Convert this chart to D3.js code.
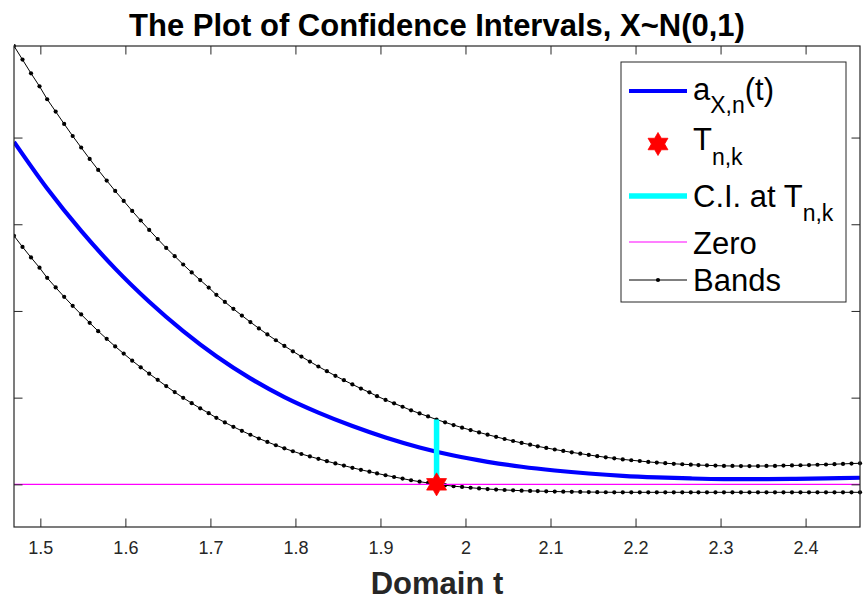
<!DOCTYPE html>
<html><head><meta charset="utf-8">
<script src="https://cdn.jsdelivr.net/npm/d3@7"></script>
<style>
body{margin:0;background:#fff;}
text{font-family:"Liberation Sans",Arial,Helvetica,sans-serif;}
</style>
</head><body>
<svg id="c" width="867" height="614"></svg>
<script>
// ---- data ----
const tBands = [
1.469,1.479,1.489,1.499,1.508,1.518,1.528,1.538,1.548,1.558,
1.568,1.578,1.588,1.598,1.608,1.618,1.628,1.638,1.648,1.658,
1.668,1.678,1.688,1.698,1.707,1.717,1.727,1.737,1.747,1.757,
1.767,1.777,1.787,1.797,1.807,1.817,1.827,1.837,1.847,1.857,
1.867,1.877,1.887,1.896,1.906,1.916,1.926,1.936,1.946,1.956,
1.966,1.976,1.986,1.996,2.006,2.016,2.026,2.036,2.046,2.056,
2.066,2.076,2.085,2.095,2.105,2.115,2.125,2.135,2.145,2.155,
2.165,2.175,2.185,2.195,2.205,2.215,2.225,2.235,2.245,2.255,
2.265,2.274,2.284,2.294,2.304,2.314,2.324,2.334,2.344,2.354,
2.364,2.374,2.384,2.394,2.404,2.414,2.424,2.434,2.444,2.454,
2.464];
const upperBand = [
5.056,4.899,4.741,4.591,4.442,4.300,4.157,4.018,3.885,3.753,
3.627,3.504,3.384,3.269,3.154,3.043,2.935,2.830,2.727,2.632,
2.536,2.444,2.356,2.270,2.186,2.104,2.024,1.947,1.872,1.799,
1.729,1.662,1.597,1.534,1.474,1.416,1.359,1.305,1.252,1.201,
1.153,1.105,1.061,1.017,0.974,0.934,0.895,0.854,0.818,0.783,
0.748,0.715,0.684,0.654,0.626,0.599,0.573,0.548,0.523,0.500,
0.478,0.458,0.438,0.420,0.402,0.385,0.369,0.354,0.339,0.325,
0.312,0.300,0.288,0.278,0.269,0.259,0.251,0.244,0.237,0.232,
0.227,0.222,0.219,0.216,0.213,0.212,0.211,0.211,0.211,0.212,
0.213,0.216,0.218,0.220,0.222,0.226,0.229,0.233,0.236,0.240,
0.243];
const lowerBand = [
2.866,2.739,2.617,2.499,2.382,2.271,2.163,2.059,1.960,1.863,
1.767,1.678,1.591,1.508,1.427,1.350,1.276,1.205,1.133,1.064,
0.998,0.936,0.877,0.821,0.767,0.714,0.664,0.617,0.572,0.529,
0.489,0.451,0.415,0.382,0.350,0.322,0.294,0.267,0.241,0.216,
0.191,0.168,0.146,0.126,0.105,0.085,0.066,0.047,0.031,0.016,
0.002,-0.010,-0.021,-0.030,-0.039,-0.047,-0.054,-0.060,-0.065,-0.069,
-0.073,-0.076,-0.078,-0.081,-0.083,-0.085,-0.086,-0.088,-0.089,-0.090,
-0.091,-0.092,-0.092,-0.092,-0.092,-0.092,-0.092,-0.092,-0.092,-0.092,
-0.092,-0.092,-0.092,-0.092,-0.092,-0.092,-0.092,-0.092,-0.092,-0.092,
-0.092,-0.092,-0.092,-0.092,-0.092,-0.092,-0.092,-0.092,-0.092,-0.092,
-0.092];
const tCurve = [1.469,1.508,1.548,1.588,1.628,1.668,1.707,1.747,1.787,1.827,1.867,1.906,1.946,
                1.986,2.026,2.066,2.105,2.145,2.185,2.225,2.265,2.304,2.344,2.384,2.424,2.464];
const aCurve = [3.950,3.412,2.923,2.488,2.106,1.767,1.477,1.222,1.006,0.827,0.672,0.540,0.425,
                0.332,0.260,0.203,0.160,0.125,0.098,0.080,0.068,0.061,0.060,0.063,0.069,0.076];
const starT = [1.966];
const starV = [0.0];
const ciT = [1.966];
const ciRange = [0.0, 0.748];
const zeroLevel = [0];
const xTicks = [1.5,1.6,1.7,1.8,1.9,2.0,2.1,2.2,2.3,2.4];
const yTicks = [0,1,2,3,4];
const xDomain = [1.469, 2.464];
const yDomain = [-0.492, 5.056];
const titleText = "The Plot of Confidence Intervals, X~N(0,1)";
const xLabelText = "Domain t";

// ---- layout ----
const L = 14, R = 860, T = 46, B = 527;
const svg = d3.select("#c");
const x = d3.scaleLinear().domain(xDomain).range([L, R]);
const y = d3.scaleLinear().domain(yDomain).range([B, T]);
const axisCol = "#262626";

const plot = svg.append("g");
plot.append("defs").append("clipPath").attr("id","clip")
  .append("rect").attr("x",L).attr("y",T-3).attr("width",R-L+3).attr("height",B-T+3);
const g = plot.append("g").attr("clip-path","url(#clip)");

// blue curve
g.append("path").datum(tCurve.map((t,i)=>[t,aCurve[i]]))
  .attr("fill","none").attr("stroke","#0000ff").attr("stroke-width",4.2)
  .attr("d", d3.line().x(d=>x(d[0])).y(d=>y(d[1])).curve(d3.curveMonotoneX));

// bands
[upperBand, lowerBand].forEach(band=>{
  const pts = tBands.map((t,i)=>[t,band[i]]);
  g.append("path").datum(pts).attr("fill","none").attr("stroke","#000").attr("stroke-width",1)
    .attr("d", d3.line().x(d=>x(d[0])).y(d=>y(d[1])));
  g.selectAll(null).data(pts).enter().append("circle")
    .attr("cx",d=>x(d[0])).attr("cy",d=>y(d[1])).attr("r",2.1).attr("fill","#000");
});

// zero line
g.append("line").attr("x1",x(xDomain[0])).attr("x2",x(xDomain[1]))
  .attr("y1",y(zeroLevel[0])).attr("y2",y(zeroLevel[0]))
  .attr("stroke","#ff00ff").attr("stroke-width",1.2);

// CI line
g.append("line").attr("x1",x(ciT[0])).attr("x2",x(ciT[0]))
  .attr("y1",y(ciRange[0])).attr("y2",y(ciRange[1]))
  .attr("stroke","#00ffff").attr("stroke-width",5.5);

// hexagram
function hexagram(R0){
  const r0 = R0/Math.sqrt(3);
  const p=[];
  for(let k=0;k<12;k++){
    const a = -Math.PI/2 + k*Math.PI/6;
    const rr = (k%2===0)?R0:r0;
    p.push([rr*Math.cos(a), rr*Math.sin(a)]);
  }
  return "M"+p.map(q=>q[0].toFixed(2)+","+q[1].toFixed(2)).join("L")+"Z";
}
plot.append("path").attr("d",hexagram(11.5))
  .attr("transform",`translate(${x(starT[0])},${y(starV[0])})`)
  .attr("fill","#ff0000").attr("stroke","#ff0000").attr("stroke-width",0.8);

// ---- axes ----
const ax = svg.append("g").attr("color",axisCol);
const axB = ax.append("g").attr("transform",`translate(0,${B})`)
  .call(d3.axisBottom(x).tickValues(xTicks).tickSizeInner(-8.5).tickSizeOuter(0).tickPadding(14)
     .tickFormat(d=>String(+d.toFixed(1))));
axB.select(".domain").remove();
axB.selectAll("text").attr("font-size",18).attr("fill",axisCol)
  .attr("font-family",'"Liberation Sans",Arial,sans-serif');
const axT = ax.append("g").attr("transform",`translate(0,${T})`)
  .call(d3.axisTop(x).tickValues(xTicks).tickSizeInner(-8.5).tickSizeOuter(0).tickFormat(""));
axT.select(".domain").remove();
const axL = ax.append("g").attr("transform",`translate(${L},0)`)
  .call(d3.axisLeft(y).tickValues(yTicks).tickSizeInner(-8.5).tickSizeOuter(0).tickFormat(""));
axL.select(".domain").remove();
const axR = ax.append("g").attr("transform",`translate(${R},0)`)
  .call(d3.axisRight(y).tickValues(yTicks).tickSizeInner(-8.5).tickSizeOuter(0).tickFormat(""));
axR.select(".domain").remove();
ax.selectAll(".tick line").attr("stroke",axisCol).attr("stroke-width",1);
ax.append("rect").attr("x",L).attr("y",T).attr("width",R-L).attr("height",B-T)
  .attr("fill","none").attr("stroke",axisCol).attr("stroke-width",1.2);

// title & label
svg.append("text").attr("x",(L+R)/2).attr("y",36).attr("text-anchor","middle")
  .attr("font-weight","bold").attr("font-size",31).attr("fill","#000").text(titleText);
svg.append("text").attr("x",(L+R)/2).attr("y",594).attr("text-anchor","middle")
  .attr("font-weight","bold").attr("font-size",31).attr("fill",axisCol).text(xLabelText);

// ---- legend ----
const lg = svg.append("g");
lg.append("rect").attr("x",621).attr("y",62).attr("width",225).attr("height",240)
  .attr("fill","#fff").attr("stroke",axisCol).attr("stroke-width",1);
const lx0 = 629, lx1 = 687, tx = 693, fs = 31, sfs = 23;
// row 1
lg.append("line").attr("x1",lx0).attr("x2",lx1).attr("y1",91).attr("y2",91)
  .attr("stroke","#0000ff").attr("stroke-width",4.2);
const t1 = lg.append("text").attr("x",tx).attr("y",100).attr("font-size",fs).attr("fill","#000");
t1.append("tspan").text("a");
t1.append("tspan").attr("dy",13).attr("font-size",sfs).text("X,n");
t1.append("tspan").attr("dy",-13).text("(t)");
// row 2
lg.append("path").attr("d",hexagram(11.5)).attr("transform","translate(658,144)")
  .attr("fill","#ff0000").attr("stroke","#ff0000").attr("stroke-width",0.8);
const t2 = lg.append("text").attr("x",tx).attr("y",150).attr("font-size",fs).attr("fill","#000");
t2.append("tspan").text("T");
t2.append("tspan").attr("dy",15).attr("font-size",sfs).text("n,k");
// row 3
lg.append("line").attr("x1",lx0).attr("x2",lx1).attr("y1",196).attr("y2",196)
  .attr("stroke","#00ffff").attr("stroke-width",5.5);
const t3 = lg.append("text").attr("x",tx).attr("y",207).attr("font-size",fs).attr("fill","#000");
t3.append("tspan").text("C.I. at T");
t3.append("tspan").attr("dy",14).attr("font-size",sfs).text("n,k");
// row 4
lg.append("line").attr("x1",lx0).attr("x2",lx1).attr("y1",242).attr("y2",242)
  .attr("stroke","#ff00ff").attr("stroke-width",1.2);
lg.append("text").attr("x",tx).attr("y",254).attr("font-size",fs).attr("fill","#000").text("Zero");
// row 5
lg.append("line").attr("x1",lx0).attr("x2",lx1).attr("y1",280).attr("y2",280)
  .attr("stroke","#000").attr("stroke-width",1);
lg.append("circle").attr("cx",(lx0+lx1)/2).attr("cy",280).attr("r",2.1).attr("fill","#000");
lg.append("text").attr("x",tx).attr("y",291).attr("font-size",fs).attr("fill","#000").text("Bands");
</script>
</body></html>
